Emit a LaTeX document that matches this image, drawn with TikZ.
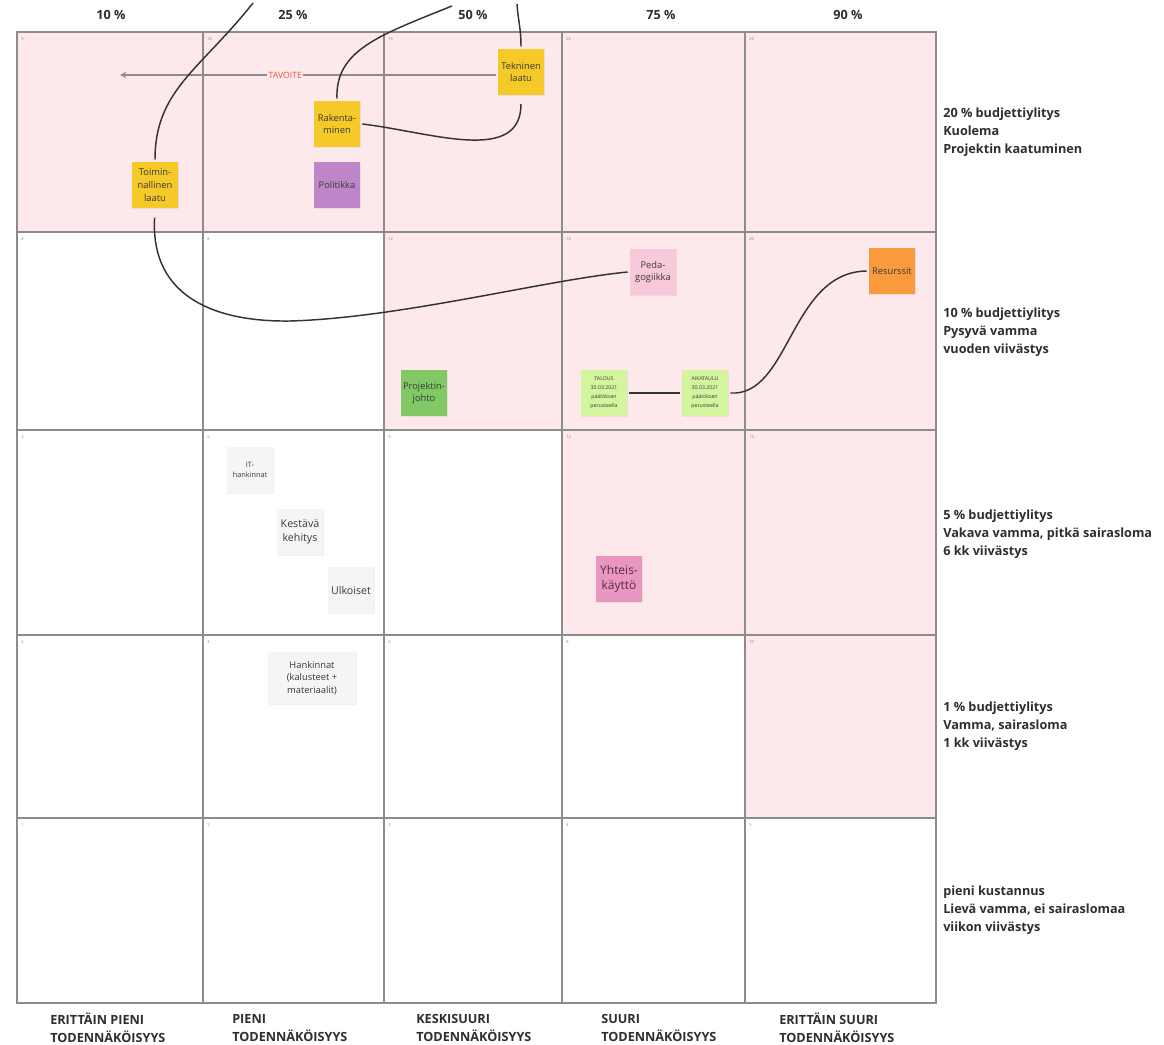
\documentclass[tikz,border=0pt]{standalone}
\usepackage{fontspec}
\setmainfont{Open Sans}
\usetikzlibrary{arrows,calc,shadows}
\tikzset{>=stealth}
\definecolor{riskpink}{HTML}{FDE9EB}
\definecolor{gridgray}{HTML}{8C8C8C}
\definecolor{linkgray}{HTML}{333333}
\definecolor{labeltext}{HTML}{2E2E2E}
\definecolor{notetext}{HTML}{3A3A3A}
\definecolor{noteyellow}{HTML}{F5C928}
\definecolor{notepurple}{HTML}{BE86C8}
\definecolor{notepink}{HTML}{F8C8DB}
\definecolor{noteorange}{HTML}{F99B3D}
\definecolor{notegreen}{HTML}{80C965}
\definecolor{notelime}{HTML}{D3F59D}
\definecolor{notewhite}{HTML}{F4F5F7}
\definecolor{notemagenta}{HTML}{E996C0}
\definecolor{yhteistext}{HTML}{5A2A4C}
\definecolor{tavoitered}{HTML}{E8553F}

\begin{document}
\begin{tikzpicture}[x=0.75pt, y=-0.75pt]
  \tikzset{gridline/.style={draw=gridgray, line width=1.4pt}}
  \tikzset{cellnum/.style={anchor=north west, inner sep=0, text=gray, font=\fontsize{3}{3}\selectfont}}
  \tikzset{note/.style={fill=#1, minimum width=35pt, minimum height=35pt, inner sep=1pt, outer sep=1.5pt,
      align=center, text=notetext, font=\fontsize{7}{9.5}\selectfont,
      drop shadow={opacity=.12, shadow xshift=.6pt, shadow yshift=-.6pt}}}
  \tikzset{link/.style={draw=linkgray, line width=1.1pt}}
  \tikzset{percent/.style={font=\bfseries\fontsize{9.5}{11}\selectfont, text=labeltext}}
  \tikzset{impact/.style={anchor=west, align=left, inner sep=0, text=labeltext,
      font=\bfseries\fontsize{9.5}{13.6}\selectfont}}

  \useasboundingbox (0,0) rectangle (1164,1045);

  % red zone
  \foreach \xa/\xb/\ya/\yb in {17/203/32/232, 203/384/32/232, 384/562/32/232, 562/745/32/232,
      745/936/32/232, 384/562/232/430, 562/745/232/430, 745/936/232/430,
      562/745/430/635, 745/936/430/635, 745/936/635/818}
    \fill[riskpink] (\xa,\ya) rectangle (\xb,\yb);

  % cell values
  \foreach \xl [count=\c] in {17,203,384,562,745}
    \foreach \yt [count=\r] in {32,232,430,635,818}
      \node[cellnum] at (\xl+4,\yt+5) {\pgfmathparse{int(\c*(6-\r))}\pgfmathresult};

  % grid
  \foreach \x in {203,384,562,745}
    \draw[gridline] (\x,32) -- (\x,1003);
  \foreach \y in {232,430,635,818}
    \draw[gridline] (17,\y) -- (936,\y);
  \draw[gridline] (17,32) rectangle (936,1003);

  % probabilities
  \foreach \x/\p in {111/10, 293/25, 473/50, 661/75, 848/90}
    \node[percent] at (\x,15) {\p{} \%};

  % consequences
  \node[impact] (imp5) at (943,132) {20 \% budjettiylitys\\Kuolema\\Projektin kaatuminen};
  \node[impact] (imp4) at (943,332) {10 \% budjettiylitys\\Pysyvä vamma\\vuoden viivästys};
  \node[impact] (imp3) at (943,534) {5 \% budjettiylitys\\Vakava vamma, pitkä sairasloma\\6 kk viivästys};
  \node[impact] (imp2) at (943,726) {1 \% budjettiylitys\\Vamma, sairasloma\\1 kk viivästys};
  \node[impact] (imp1) at (943,910) {pieni kustannus\\Lievä vamma, ei sairaslomaa\\viikon viivästys};

  % likelihood
  \foreach \x/\t in {50/ERITTÄIN PIENI, 232/PIENI, 416/KESKISUURI, 601/SUURI, 779/ERITTÄIN SUURI}
    \node[impact] at (\x,1028) {\t\\TODENNÄKÖISYYS};

  % sticky notes
  \node[note=noteyellow] (tekninen) at (521,72) {Tekninen\\laatu};
  \node[note=noteyellow] (rakentaminen) at (337,124) {Rakenta-\\minen};
  \node[note=notepurple] (politikka) at (337,185) {Politikka};
  \node[note=noteyellow] (toiminnallinen) at (155,185) {Toimin-\\nallinen\\laatu};
  \node[note=notepink] (pedagogiikka) at (653,272) {Peda-\\gogiikka};
  \node[note=noteorange] (resurssit) at (892,271) {Resurssit};
  \node[note=notegreen] (projektinjohto) at (424,393) {Projektin-\\johto};
  \node[note=notelime, font=\fontsize{3.9}{6.8}\selectfont] (talous) at (604,393)
    {TALOUS\\30.03.2021\\päätöksen\\perusteella};
  \node[note=notelime, font=\fontsize{3.9}{6.8}\selectfont] (aikataulu) at (705,393)
    {AIKATAULU\\30.03.2021\\päätöksen\\perusteella};
  \node[note=notewhite, font=\fontsize{5.5}{8}\selectfont] (ithankinnat) at (250,470) {IT-\\hankinnat};
  \node[note=notewhite, font=\fontsize{8}{11}\selectfont] (kestava) at (300,532) {Kestävä\\kehitys};
  \node[note=notewhite, font=\fontsize{8}{11}\selectfont] (ulkoiset) at (351,590) {Ulkoiset};
  \node[note=notemagenta, text=yhteistext, font=\fontsize{9}{11.5}\selectfont] (yhteiskaytto) at (619,579)
    {Yhteis-\\käyttö};
  \node[note=notewhite, minimum width=66pt, minimum height=39pt] (hankinnat) at (312,678)
    {Hankinnat\\(kalusteet +\\materiaalit)};

  % goal arrow
  \coordinate (goal) at (120,75);
  \draw[->, draw=gridgray, line width=1.1pt] (tekninen.west |- goal) --
    node[pos=.56, fill=riskpink, inner sep=1pt, text=tavoitered, font=\fontsize{6.5}{6.5}\selectfont] (tavoite) {TAVOITE} (goal);

  % connectors
  \coordinate (endA) at (253,3);
  \coordinate (endC) at (452,6);
  \coordinate (endE) at (517,4);
  \draw[link] (toiminnallinen.north) .. controls (155,90) and (200,70) .. (endA);
  \draw[link, shorten <=5.5pt] (toiminnallinen.south) .. controls (150,300) and (220,322) .. (290,321)
    .. controls (400,318) and (545,280) .. (pedagogiikka.west);
  \draw[link] (rakentaminen.north) .. controls (335,50) and (380,35) .. (endC);
  \draw[link, shorten >=5pt] (rakentaminen.east) .. controls (430,132) and (521,165) .. (tekninen.south);
  \draw[link] (tekninen.north) .. controls (521,28) and (518,20) .. (endE);
  \draw[link] (talous.east) -- (aikataulu.west);
  \draw[link] (aikataulu.east) .. controls (790,397) and (790,272) .. (resurssit.west);
\end{tikzpicture}
\end{document}
